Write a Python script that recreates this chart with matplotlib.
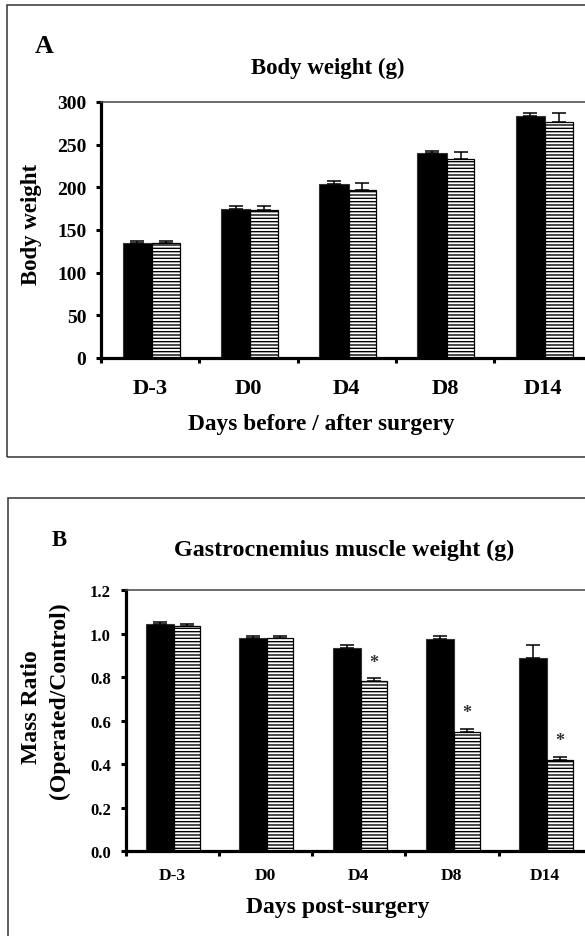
import matplotlib
matplotlib.use('Agg')
import matplotlib.pyplot as plt
from matplotlib.patches import Rectangle
import numpy as np

plt.rcParams['font.family'] = ['Liberation Serif', 'DejaVu Serif']
plt.rcParams['font.weight'] = 'bold'
plt.rcParams['hatch.linewidth'] = 1.0

# Panel A: body weight (g)
days_a = ['D-3', 'D0', 'D4', 'D8', 'D14']
sham_weight = [134.5, 175, 204, 240, 283.5]
sham_weight_err = [3, 3, 3, 3, 3]
op_weight = [135, 173, 196.5, 233, 276.5]
op_weight_err = [2.5, 5.5, 8, 8.5, 10]
ticks_a = [0, 50, 100, 150, 200, 250, 300]

# Panel B: gastrocnemius mass ratio (operated / control)
days_b = ['D-3', 'D0', 'D4', 'D8', 'D14']
sham_ratio = [1.044, 0.979, 0.932, 0.973, 0.886]
sham_ratio_err = [0.007, 0.009, 0.015, 0.017, 0.063]
op_ratio = [1.036, 0.978, 0.780, 0.546, 0.418]
op_ratio_err = [0.008, 0.009, 0.015, 0.017, 0.016]
significant = [False, False, True, True, True]
ticks_b = [0.0, 0.2, 0.4, 0.6, 0.8, 1.0, 1.2]

fig = plt.figure(figsize=(5.85, 9.37), dpi=100)

# panel frames (right / bottom edges run off the page)
fig.patches.append(Rectangle((0.0115, 0.5112), 1.2, 0.4827, transform=fig.transFigure,
                             fill=False, edgecolor='#333333', linewidth=1.1, clip_on=False))
fig.patches.append(Rectangle((0.0142, -0.2), 1.2, 0.6675, transform=fig.transFigure,
                             fill=False, edgecolor='#333333', linewidth=1.1, clip_on=False))


def draw_panel(ax, cats, black, black_err, striped, striped_err, yticks, ylim,
               ytick_fmt, ytick_size, xtick_size, xtick_pad):
    n = len(cats)
    x = np.arange(n)
    ax.bar(x - 0.28, black, width=0.30, align='edge', color='black',
           edgecolor='#333333', linewidth=0.8, zorder=2)
    ax.bar(x + 0.02, striped, width=0.28, align='edge', color='white',
           edgecolor='black', hatch='-----', linewidth=0.9, zorder=2)
    ax.errorbar(x - 0.13, black, yerr=[np.zeros(n), black_err], fmt='none',
                ecolor='black', elinewidth=1.1, capsize=4.7, capthick=1.1, zorder=3)
    ax.errorbar(x + 0.16, striped, yerr=[np.zeros(n), striped_err], fmt='none',
                ecolor='black', elinewidth=1.1, capsize=4.7, capthick=1.1, zorder=3)
    ax.set_xlim(-0.5, n - 0.5)
    ax.set_ylim(*ylim)
    ax.set_yticks(yticks)
    ax.set_yticklabels([ytick_fmt.format(t) for t in yticks], fontsize=ytick_size,
                       fontweight='bold')
    ax.set_xticks(x)
    ax.set_xticklabels(cats, fontsize=xtick_size, fontweight='bold')
    ax.set_xticks(np.arange(n + 1) - 0.5, minor=True)
    ax.tick_params(axis='x', which='major', length=0, pad=xtick_pad)
    ax.tick_params(axis='x', which='minor', direction='out', length=3.6, width=2.2)
    ax.tick_params(axis='y', direction='out', length=3.6, width=2.2, pad=7)
    for side in ('left', 'bottom'):
        ax.spines[side].set_linewidth(2.3)
    ax.spines['top'].set_linewidth(1.1)
    ax.spines['top'].set_color('#444444')
    ax.spines['right'].set_visible(False)
    return x


# ---- Panel A ----
ax_a = fig.add_axes([0.1726, 0.6169, 0.840, 0.2732])
draw_panel(ax_a, days_a, sham_weight, sham_weight_err, op_weight, op_weight_err,
           ticks_a, (0, 300), '{:.0f}', 14, 16.2, 14.4)
ax_a.set_ylabel('Body weight', fontsize=16.5, fontweight='bold')
ax_a.yaxis.label.set_va('center')
ax_a.yaxis.set_label_coords(-0.142, 0.527)
fig.text(0.0598, 0.9434, 'A', fontsize=18.7, fontweight='bold', ha='left', va='baseline')
fig.text(328 / 585, 0.921, 'Body weight (g)', fontsize=16.5, fontweight='bold',
         ha='center', va='baseline')
fig.text(321 / 585, 0.541, 'Days before / after surgery', fontsize=16.8,
         fontweight='bold', ha='center', va='baseline')

# ---- Panel B ----
ax_b = fig.add_axes([0.2149, 0.0907, 0.7966, 0.2785])
xb = draw_panel(ax_b, days_b, sham_ratio, sham_ratio_err, op_ratio, op_ratio_err,
                ticks_b, (0, 1.2), '{:.1f}', 12, 12.6, 11.5)
for xi, v, e, sig in zip(xb, op_ratio, op_ratio_err, significant):
    if sig:
        ax_b.text(xi + 0.16, v + e + 0.072, '*', fontsize=13, color='#333333',
                  ha='center', va='center')
ax_b.text(-0.203, 0.557, 'Mass Ratio', transform=ax_b.transAxes, rotation=90,
          fontsize=17, fontweight='bold', ha='center', va='center')
ax_b.text(-0.142, 0.579, '(Operated/Control)', transform=ax_b.transAxes, rotation=90,
          fontsize=17, fontweight='bold', ha='center', va='center')
fig.text(0.0889, 0.4173, 'B', fontsize=16.5, fontweight='bold', ha='left', va='baseline')
fig.text(344 / 585, 0.4066, 'Gastrocnemius muscle weight (g)', fontsize=17.3,
         fontweight='bold', ha='center', va='baseline')
fig.text(337.5 / 585, 0.0256, 'Days post-surgery', fontsize=17, fontweight='bold',
         ha='center', va='baseline')

fig.savefig('out.png', dpi=100)
